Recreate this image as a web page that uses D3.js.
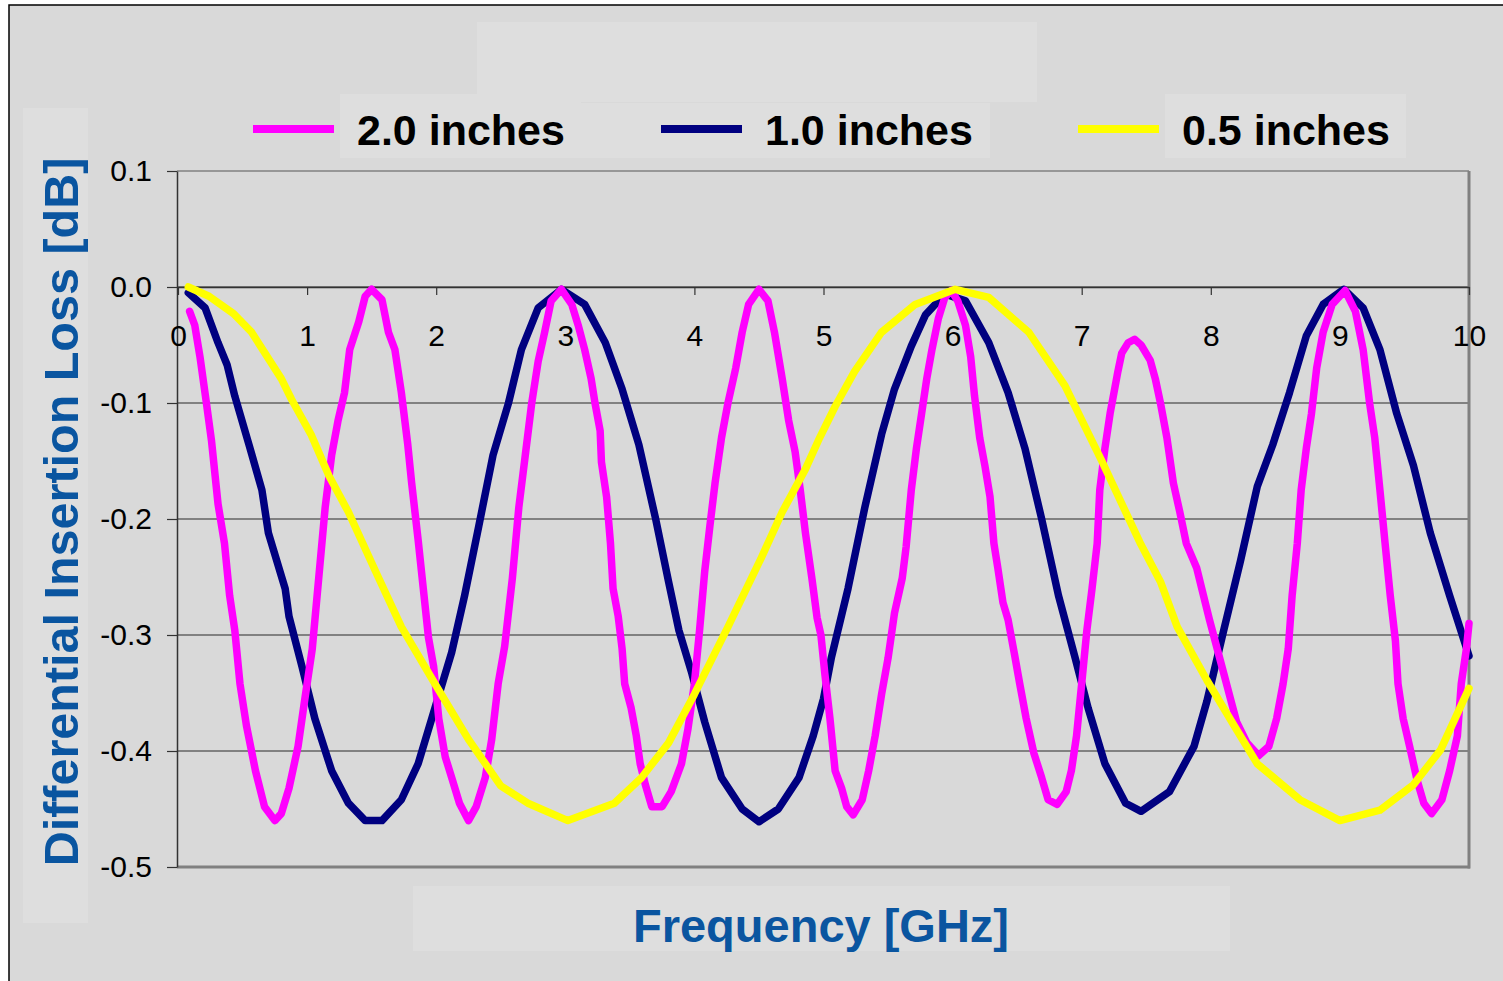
<!DOCTYPE html>
<html>
<head>
<meta charset="utf-8">
<script src="https://cdn.jsdelivr.net/npm/d3@7"></script>
<style>
  html, body { margin: 0; padding: 0; background: #ffffff; }
  svg { display: block; font-family: "Liberation Sans", Arial, sans-serif; }
</style>
</head>
<body>
<svg id="chart" width="1503" height="981"></svg>
<script>
// Differential insertion loss vs frequency for three trace lengths
const seriesNames = ["2.0 inches", "1.0 inches", "0.5 inches"];
const seriesColors = ["#ff00ff", "#000080", "#ffff00"];
const xTicks = [0, 1, 2, 3, 4, 5, 6, 7, 8, 9, 10];
const yTicks = [0.1, 0.0, -0.1, -0.2, -0.3, -0.4, -0.5];

// [frequency GHz, loss dB]
const loss2in = [
  [0.09,-0.021],[0.13,-0.033],[0.17,-0.06],[0.22,-0.10],[0.26,-0.133],[0.31,-0.187],[0.36,-0.221],[0.40,-0.266],
  [0.44,-0.296],[0.48,-0.342],[0.53,-0.378],[0.60,-0.417],[0.67,-0.448],[0.75,-0.46],[0.80,-0.454],[0.86,-0.432],
  [0.93,-0.396],[0.98,-0.357],[1.04,-0.312],[1.09,-0.251],[1.14,-0.19],[1.19,-0.145],[1.24,-0.115],[1.29,-0.091],
  [1.33,-0.054],[1.40,-0.03],[1.45,-0.008],[1.50,-0.002],[1.58,-0.011],[1.63,-0.039],[1.68,-0.054],[1.73,-0.091],
  [1.78,-0.136],[1.81,-0.169],[1.86,-0.218],[1.90,-0.26],[1.94,-0.302],[1.98,-0.327],[2.02,-0.372],[2.07,-0.405],
  [2.12,-0.423],[2.18,-0.445],[2.25,-0.46],[2.31,-0.448],[2.38,-0.423],[2.43,-0.39],[2.48,-0.342],[2.53,-0.31],
  [2.59,-0.251],[2.64,-0.19],[2.69,-0.145],[2.74,-0.10],[2.79,-0.064],[2.84,-0.039],[2.89,-0.012],[2.97,-0.002],
  [3.05,-0.015],[3.10,-0.033],[3.15,-0.054],[3.20,-0.079],[3.23,-0.10],[3.27,-0.124],[3.28,-0.151],[3.32,-0.181],
  [3.35,-0.221],[3.37,-0.26],[3.41,-0.284],[3.44,-0.312],[3.46,-0.342],[3.51,-0.363],[3.55,-0.387],[3.58,-0.411],
  [3.62,-0.429],[3.67,-0.448],[3.75,-0.448],[3.82,-0.435],[3.90,-0.411],[3.95,-0.381],[4.00,-0.342],[4.04,-0.296],
  [4.08,-0.245],[4.12,-0.206],[4.16,-0.169],[4.21,-0.13],[4.26,-0.10],[4.32,-0.07],[4.37,-0.039],[4.42,-0.015],
  [4.50,-0.002],[4.57,-0.012],[4.62,-0.039],[4.68,-0.079],[4.73,-0.115],[4.78,-0.142],[4.82,-0.175],[4.86,-0.212],
  [4.91,-0.251],[4.95,-0.285],[4.98,-0.30],[5.01,-0.333],[5.05,-0.372],[5.09,-0.417],[5.14,-0.432],[5.18,-0.448],
  [5.23,-0.455],[5.30,-0.442],[5.35,-0.417],[5.40,-0.387],[5.45,-0.351],[5.50,-0.32],[5.55,-0.281],[5.61,-0.251],
  [5.64,-0.224],[5.68,-0.175],[5.72,-0.139],[5.76,-0.109],[5.80,-0.079],[5.84,-0.054],[5.89,-0.027],[5.94,-0.009],
  [5.99,-0.003],[6.04,-0.012],[6.10,-0.033],[6.14,-0.06],[6.17,-0.094],[6.21,-0.13],[6.25,-0.154],[6.29,-0.181],
  [6.32,-0.221],[6.35,-0.242],[6.39,-0.272],[6.43,-0.287],[6.48,-0.317],[6.52,-0.342],[6.57,-0.372],[6.63,-0.402],
  [6.69,-0.423],[6.74,-0.442],[6.81,-0.446],[6.88,-0.435],[6.92,-0.417],[6.96,-0.387],[7.00,-0.342],[7.04,-0.296],
  [7.08,-0.26],[7.12,-0.221],[7.14,-0.175],[7.18,-0.139],[7.22,-0.109],[7.25,-0.091],[7.28,-0.073],[7.31,-0.057],
  [7.36,-0.048],[7.41,-0.045],[7.46,-0.05],[7.53,-0.063],[7.57,-0.079],[7.61,-0.10],[7.66,-0.13],[7.71,-0.169],
  [7.76,-0.194],[7.81,-0.221],[7.89,-0.242],[7.93,-0.26],[7.99,-0.287],[8.05,-0.312],[8.10,-0.333],[8.15,-0.354],
  [8.20,-0.375],[8.28,-0.393],[8.37,-0.404],[8.45,-0.396],[8.51,-0.372],[8.56,-0.342],[8.60,-0.312],[8.63,-0.266],
  [8.67,-0.221],[8.70,-0.175],[8.74,-0.139],[8.78,-0.109],[8.82,-0.07],[8.87,-0.039],[8.94,-0.015],[9.04,-0.003],
  [9.12,-0.021],[9.18,-0.054],[9.23,-0.10],[9.27,-0.13],[9.31,-0.175],[9.35,-0.221],[9.39,-0.266],[9.43,-0.305],
  [9.45,-0.342],[9.49,-0.372],[9.54,-0.396],[9.60,-0.426],[9.65,-0.445],[9.71,-0.454],[9.79,-0.442],[9.85,-0.417],
  [9.91,-0.387],[9.94,-0.342],[9.98,-0.312],[10.0,-0.29]
];

const loss1in = [
  [0.08,-0.005],[0.21,-0.018],[0.31,-0.048],[0.38,-0.067],[0.44,-0.094],[0.55,-0.136],[0.65,-0.175],[0.70,-0.212],
  [0.83,-0.26],[0.86,-0.284],[0.96,-0.327],[1.06,-0.372],[1.19,-0.417],[1.32,-0.445],[1.45,-0.46],[1.58,-0.46],
  [1.73,-0.442],[1.86,-0.411],[1.99,-0.363],[2.12,-0.315],[2.22,-0.266],[2.33,-0.206],[2.44,-0.145],[2.56,-0.10],
  [2.66,-0.054],[2.79,-0.018],[2.97,-0.002],[3.15,-0.015],[3.31,-0.048],[3.44,-0.088],[3.57,-0.136],[3.70,-0.20],
  [3.80,-0.254],[3.88,-0.296],[3.98,-0.333],[4.08,-0.375],[4.21,-0.423],[4.37,-0.45],[4.50,-0.461],[4.65,-0.45],
  [4.81,-0.423],[4.92,-0.387],[5.00,-0.355],[5.06,-0.32],[5.19,-0.26],[5.32,-0.19],[5.45,-0.127],[5.55,-0.088],
  [5.68,-0.051],[5.79,-0.024],[5.94,-0.006],[6.10,-0.012],[6.28,-0.048],[6.43,-0.091],[6.56,-0.139],[6.69,-0.20],
  [6.82,-0.266],[6.95,-0.32],[7.05,-0.363],[7.18,-0.411],[7.34,-0.445],[7.46,-0.452],[7.68,-0.435],[7.87,-0.396],
  [7.97,-0.357],[8.10,-0.296],[8.23,-0.236],[8.36,-0.172],[8.48,-0.136],[8.61,-0.091],[8.74,-0.042],[8.87,-0.015],
  [9.03,-0.002],[9.18,-0.018],[9.31,-0.054],[9.44,-0.109],[9.57,-0.154],[9.70,-0.212],[9.85,-0.266],[10.0,-0.318]
];

const loss05in = [
  [0.08,0.0],[0.24,-0.008],[0.43,-0.023],[0.57,-0.039],[0.80,-0.079],[0.88,-0.097],[1.03,-0.127],[1.17,-0.163],
  [1.32,-0.194],[1.53,-0.245],[1.73,-0.293],[1.99,-0.342],[2.25,-0.39],[2.50,-0.43],[2.71,-0.445],[3.02,-0.46],
  [3.38,-0.445],[3.59,-0.423],[3.80,-0.393],[4.00,-0.351],[4.26,-0.293],[4.52,-0.233],[4.68,-0.194],[4.86,-0.157],
  [4.97,-0.13],[5.09,-0.103],[5.24,-0.073],[5.45,-0.039],[5.71,-0.015],[6.02,-0.002],[6.28,-0.009],[6.59,-0.039],
  [6.87,-0.085],[7.16,-0.151],[7.45,-0.22],[7.61,-0.254],[7.74,-0.293],[7.97,-0.339],[8.18,-0.378],[8.36,-0.411],
  [8.69,-0.442],[9.00,-0.46],[9.31,-0.451],[9.57,-0.429],[9.78,-0.399],[10.0,-0.346]
];

const seriesData = [loss2in, loss1in, loss05in];

const svg = d3.select("#chart");
const BG = "#d9d9d9", BOX = "#dedede", BLUE = "#0a55a0";

// chart area background and frame
svg.append("rect").attr("x", 9).attr("y", 5).attr("width", 1520).attr("height", 1000)
  .attr("fill", BG).attr("stroke", "#000").attr("stroke-width", 1.5);

// lighter text frames (title, legend entries, axis titles)
const frames = [
  [477, 22, 560, 80], [340, 94, 241, 64], [581, 103, 168, 55], [749, 103, 241, 55],
  [1165, 94, 241, 64], [23, 108, 65, 815], [413, 886, 817, 65]
];
svg.selectAll("rect.frame").data(frames).join("rect").attr("class", "frame")
  .attr("x", d => d[0]).attr("y", d => d[1]).attr("width", d => d[2]).attr("height", d => d[3])
  .attr("fill", BOX);

const x = d3.scaleLinear().domain([0, 10]).range([178, 1469]);
const y = d3.scaleLinear().domain([-0.5, 0.1]).range([867, 171]);

// horizontal grid lines
svg.append("g").selectAll("line").data(yTicks.filter(v => v > -0.45 && v < 0.05)).join("line")
  .attr("x1", x(0)).attr("x2", x(10)).attr("y1", d => y(d)).attr("y2", d => y(d))
  .attr("stroke", "#2a2a2a").attr("stroke-width", 1.2);

// plot frame
svg.append("line").attr("x1", 177).attr("x2", 1469).attr("y1", y(0.1)).attr("y2", y(0.1))
  .attr("stroke", "#808080").attr("stroke-width", 1.5);
svg.append("line").attr("x1", 1469).attr("x2", 1469).attr("y1", y(0.1)).attr("y2", y(-0.5) + 1.5)
  .attr("stroke", "#808080").attr("stroke-width", 3);
svg.append("line").attr("x1", 177).attr("x2", 1470).attr("y1", y(-0.5)).attr("y2", y(-0.5))
  .attr("stroke", "#808080").attr("stroke-width", 3);

// y axis
const yAxis = d3.axisLeft(y).tickValues(yTicks).tickSize(10).tickSizeOuter(0).tickPadding(15)
  .tickFormat(d => d.toFixed(1));
const gy = svg.append("g").attr("transform", "translate(177,0)").call(yAxis);
gy.select(".domain").attr("stroke", "#333").attr("stroke-width", 1.5);
gy.selectAll(".tick line").attr("stroke", "#333").attr("stroke-width", 1.2);
gy.selectAll(".tick text").attr("font-size", 30).attr("fill", "#000")
  .attr("font-family", "'Liberation Sans', Arial, sans-serif");

// x axis through zero
const xAxis = d3.axisBottom(x).tickValues(xTicks).tickSize(8).tickSizeOuter(0).tickPadding(30)
  .tickFormat(d3.format("d"));
const gx = svg.append("g").attr("transform", `translate(0,${y(0)})`).call(xAxis);
gx.select(".domain").attr("stroke", "#333").attr("stroke-width", 1.5);
gx.selectAll(".tick line").attr("stroke", "#333").attr("stroke-width", 1.2);
gx.selectAll(".tick text").attr("font-size", 30).attr("fill", "#000")
  .attr("font-family", "'Liberation Sans', Arial, sans-serif");

// curves
svg.append("clipPath").attr("id", "plotClip").append("rect")
  .attr("x", 177).attr("y", 160).attr("width", 1296).attr("height", 710);
const line = d3.line().x(d => x(d[0])).y(d => y(d[1])).curve(d3.curveLinear);
const drawOrder = [1, 0, 2];
svg.append("g").attr("clip-path", "url(#plotClip)").selectAll("path")
  .data(drawOrder).join("path")
  .attr("d", i => line(seriesData[i]))
  .attr("fill", "none").attr("stroke", i => seriesColors[i])
  .attr("stroke-width", 7.5).attr("stroke-linejoin", "round").attr("stroke-linecap", "round");

// legend
const legendX = [253, 661, 1078];
const lg = svg.append("g").selectAll("g").data(seriesNames).join("g")
  .attr("transform", (d, i) => `translate(${legendX[i]},129)`);
lg.append("line").attr("x1", 0).attr("x2", 81).attr("y1", 0).attr("y2", 0)
  .attr("stroke", (d, i) => seriesColors[i]).attr("stroke-width", 8);
lg.append("text").attr("x", 104).attr("y", 16).text(d => d)
  .attr("font-size", 43).attr("font-weight", "bold").attr("fill", "#000");

// axis titles
svg.append("text").attr("transform", "translate(78,512) rotate(-90)")
  .attr("text-anchor", "middle").attr("font-size", 48.5).attr("font-weight", "bold")
  .attr("fill", BLUE).text("Differential Insertion Loss [dB]");
svg.append("text").attr("x", 821).attr("y", 942)
  .attr("text-anchor", "middle").attr("font-size", 47).attr("font-weight", "bold")
  .attr("fill", BLUE).text("Frequency [GHz]");
</script>
</body>
</html>
